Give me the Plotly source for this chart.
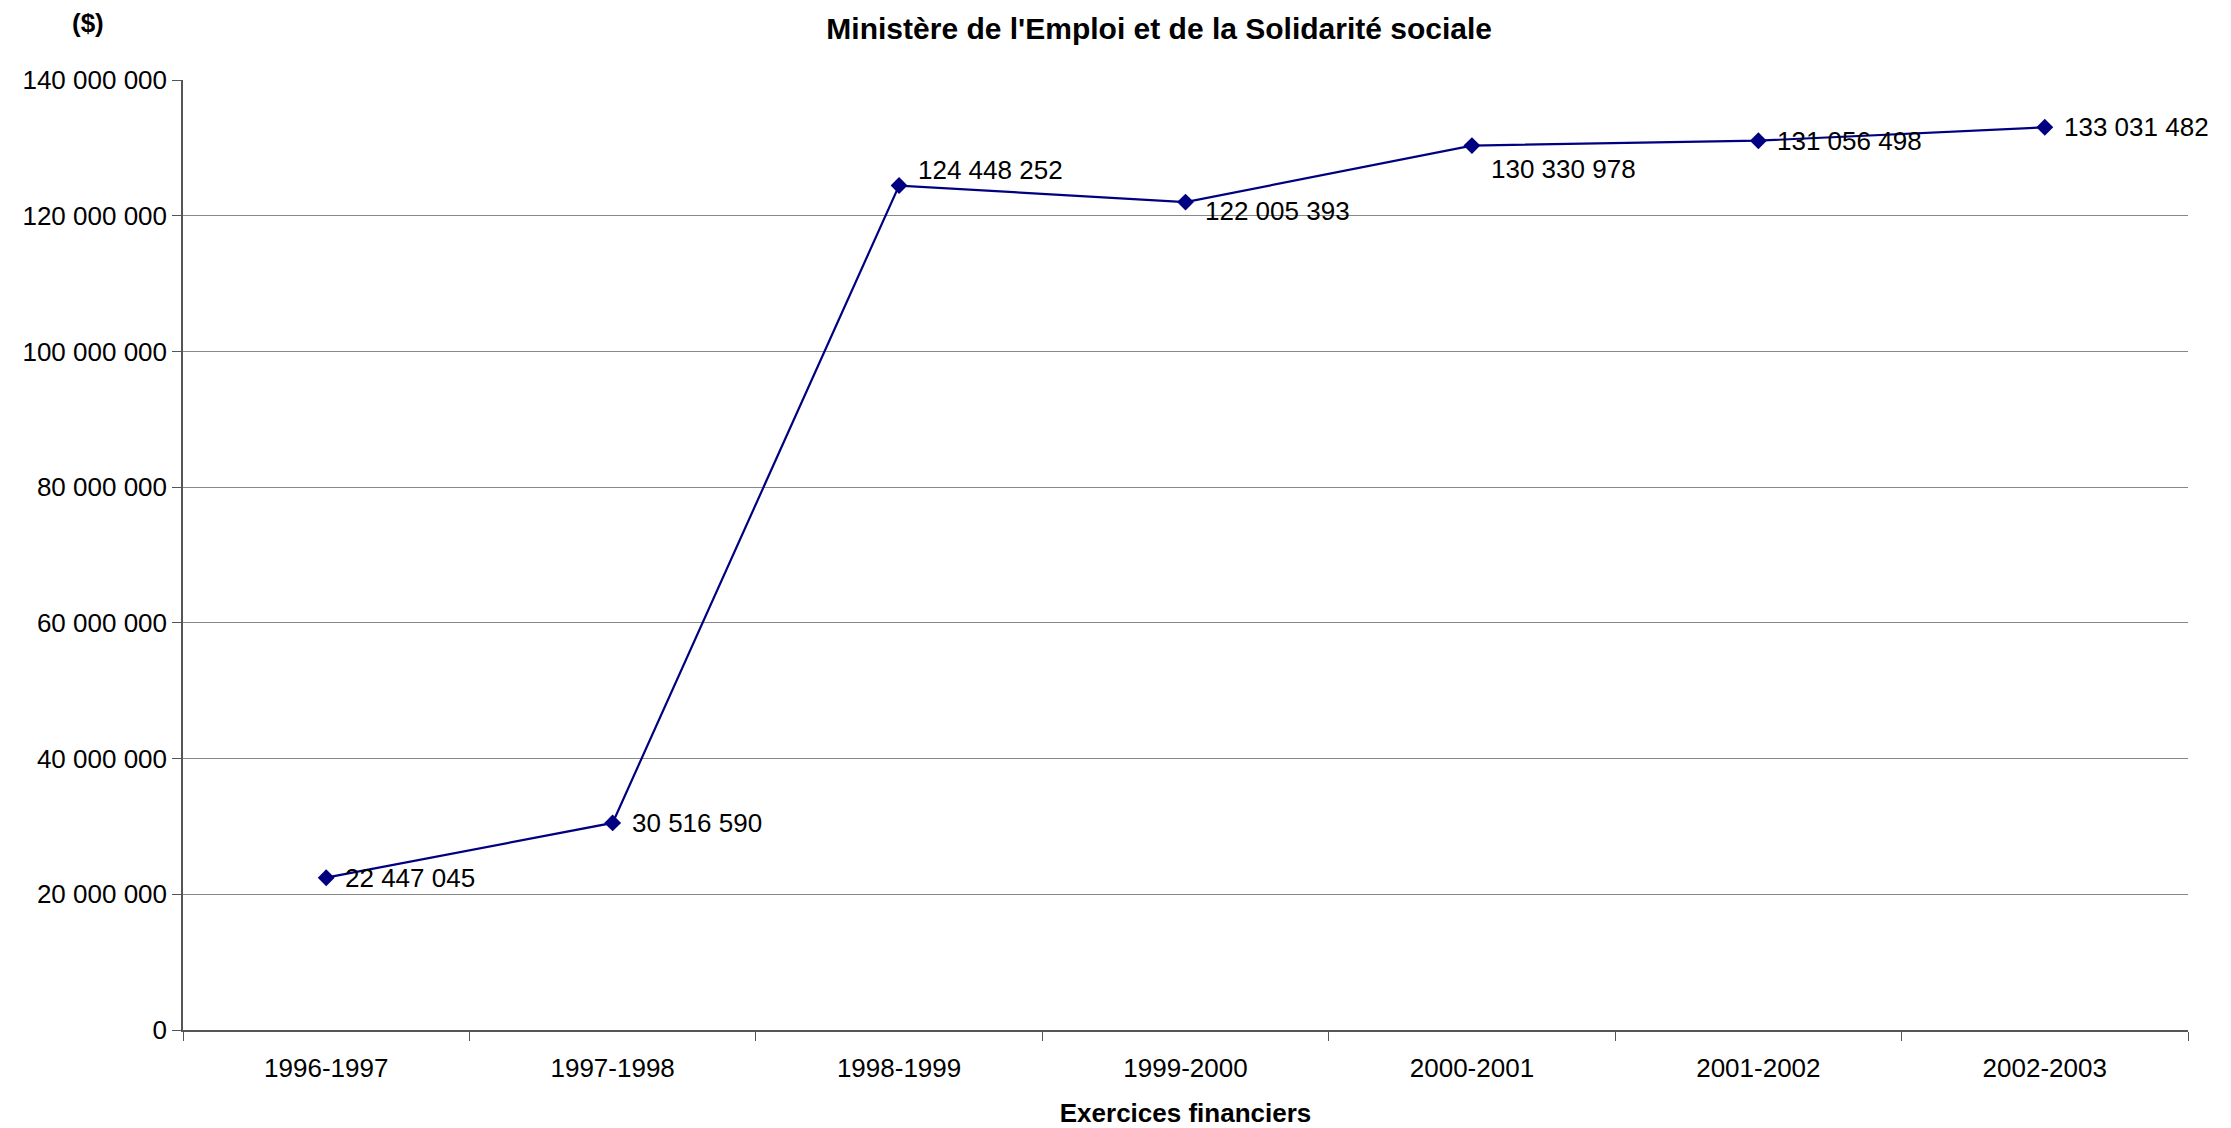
import plotly.graph_objects as go

categories = ["1996-1997", "1997-1998", "1998-1999", "1999-2000", "2000-2001", "2001-2002", "2002-2003"]
values = [22447045, 30516590, 124448252, 122005393, 130330978, 131056498, 133031482]
y_ticks = [0, 20000000, 40000000, 60000000, 80000000, 100000000, 120000000, 140000000]

# label vertical offsets (pixels, up positive) - style only
label_yshift = [0, 0, 16, -9, -23, 0, 0]

labels = [f"{v:,}".replace(",", " ") for v in values]

FONT = "Liberation Sans, Arial, sans-serif"

fig = go.Figure()
fig.add_trace(go.Scatter(
    x=categories, y=values,
    mode="lines+markers",
    line=dict(color="#000080", width=2.2),
    marker=dict(symbol="diamond", size=13, color="#000080"),
    cliponaxis=False,
    hoverinfo="x+y",
))

for c, v, t, dy in zip(categories, values, labels, label_yshift):
    fig.add_annotation(x=c, y=v, text=t, showarrow=False,
                       xanchor="left", yanchor="middle",
                       xshift=17, yshift=dy,
                       font=dict(family=FONT, size=26, color="black"))

fig.update_layout(
    width=2231, height=1128,
    margin=dict(l=175, r=51, t=72, b=106),
    paper_bgcolor="white", plot_bgcolor="white",
    separators=", ",
    showlegend=False,
    font=dict(family=FONT, size=26, color="black"),
    title=dict(text="<b>Ministère de l'Emploi et de la Solidarité sociale</b>",
               x=0.516, xanchor="center", y=0.982, yanchor="middle",
               font=dict(family=FONT, size=30, color="black")),
    xaxis=dict(
        type="category",
        range=[-0.5, 6.5],
        tickson="boundaries",
        ticks="outside", ticklen=9, tickcolor="#555555",
        showline=True, linecolor="#555555", linewidth=1.5,
        showgrid=False,
        tickfont=dict(family=FONT, size=26),
        ticklabelstandoff=14,
        title=dict(text="<b>Exercices financiers</b>", font=dict(family=FONT, size=26), standoff=22),
    ),
    yaxis=dict(
        range=[0, 140000000],
        tickvals=y_ticks,
        tickformat=",d",
        ticks="outside", ticklen=9, tickcolor="#555555",
        showline=True, linecolor="#555555", linewidth=1.5,
        showgrid=True, gridcolor="#888888", gridwidth=1,
        zeroline=False,
        tickfont=dict(family=FONT, size=26),
    ),
)

fig.add_annotation(text="<b>($)</b>", xref="paper", yref="paper",
                   x=-0.0474, y=1.06, xanchor="center", yanchor="middle",
                   showarrow=False, font=dict(family=FONT, size=26, color="black"))

fig.write_html("out.html")
